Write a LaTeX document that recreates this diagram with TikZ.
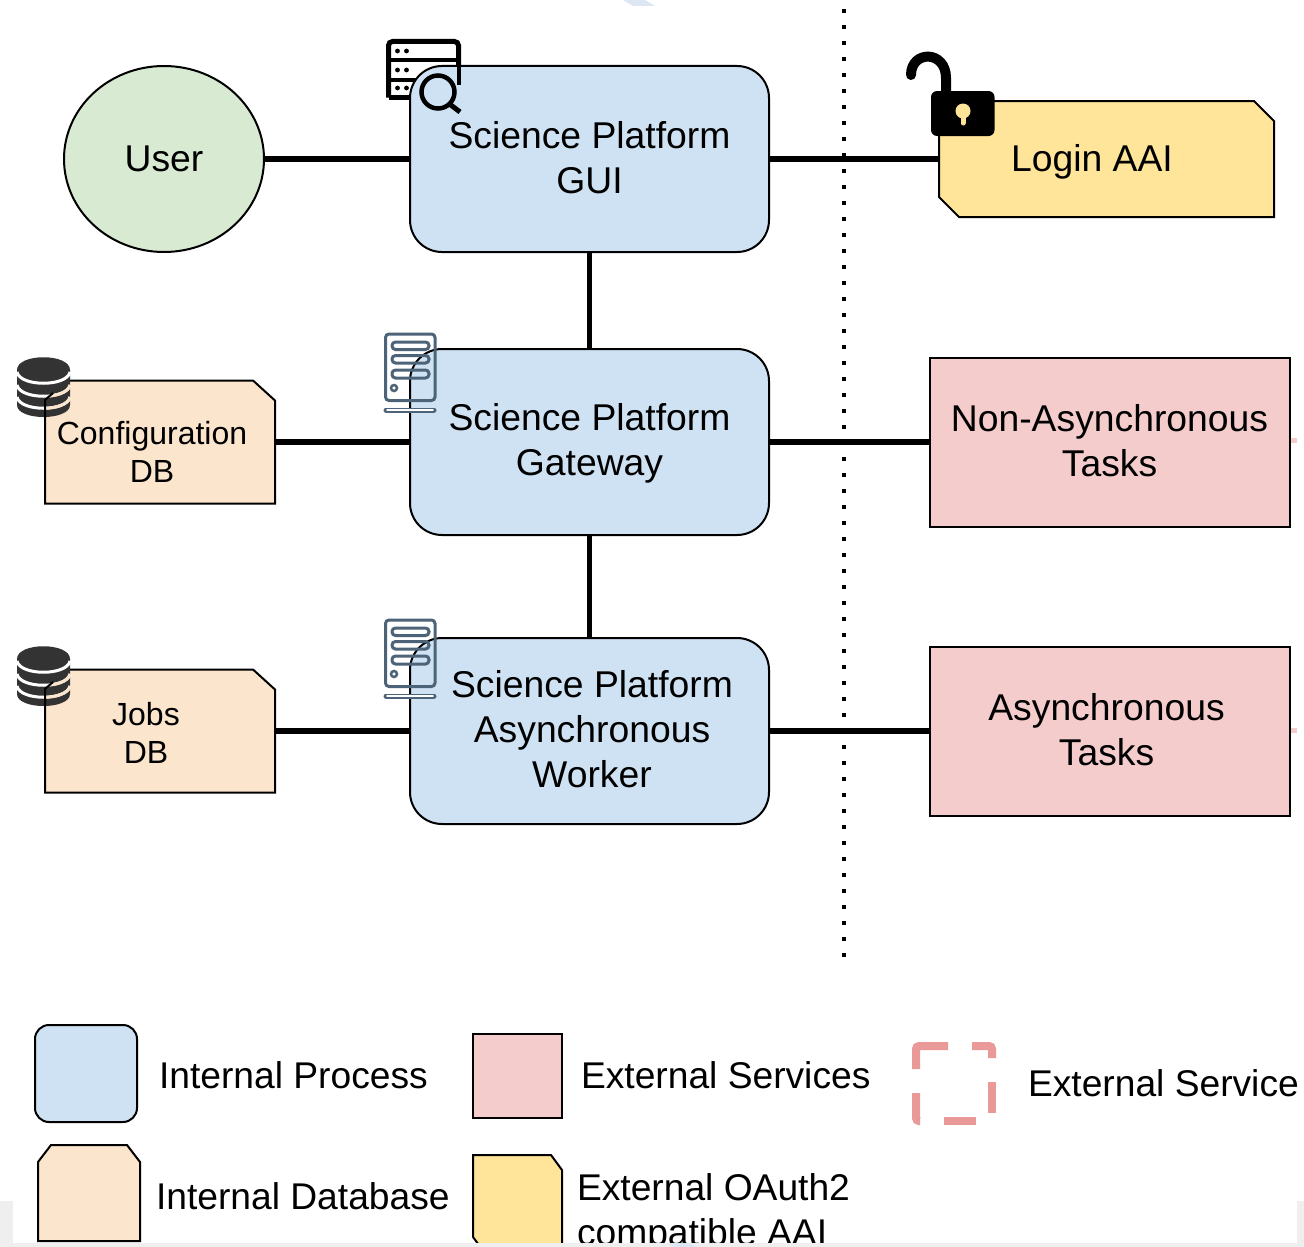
\documentclass[tikz,border=0pt]{standalone}
\usepackage{fontspec}
\setmainfont{Liberation Sans}
\usetikzlibrary{shapes.geometric}
\definecolor{procblue}{HTML}{CFE2F3}
\definecolor{dbpeach}{HTML}{FCE5CD}
\definecolor{extpink}{HTML}{F4CCCC}
\definecolor{aaiyellow}{HTML}{FFE599}
\definecolor{usergreen}{HTML}{D9EAD3}
\definecolor{dashpink}{HTML}{EA9999}
\definecolor{iconslate}{HTML}{4C6378}
\definecolor{icondark}{HTML}{333333}
\definecolor{bandgrey}{HTML}{EFEFEF}
\definecolor{ghostblue}{HTML}{DCE7F3}
\tikzset{
  every node/.style={inner sep=0pt,outer sep=0pt},
  big/.style={font=\fontsize{37.3}{45}\selectfont,align=center,text=black},
  small/.style={font=\fontsize{32}{38.5}\selectfont,align=center,text=black},
  legendtext/.style={font=\fontsize{37.2}{45}\selectfont,align=left,text=black},
  proc/.style={draw=black,line width=2pt,fill=procblue,rounded corners=32pt,minimum width=359pt,minimum height=186pt},
  ext/.style={draw=black,line width=2pt,fill=extpink,minimum width=360pt,minimum height=169pt},
  snipframe/.style={minimum width=#1},
  dbframe/.style={minimum width=230pt,minimum height=123pt},
  snipline/.style={draw=black,line width=2pt,line join=miter},
  link/.style={draw=black,line width=5.5pt},
  sep/.style={draw=black,line width=4pt,dash pattern=on 4pt off 12pt},
  srv/.style={draw=iconslate,line width=3pt,rounded corners=3.5pt},
}
% box with the two top corners cut: name, fill, dx, dy
\newcommand{\topsnip}[4]{%
  \draw[snipline,fill=#2] (#1.south west) -- ([yshift=-#4pt]#1.north west) -- ([xshift=#3pt]#1.north west) -- ([xshift=-#3pt]#1.north east) -- ([yshift=-#4pt]#1.north east) -- (#1.south east) -- cycle;}
% box with the north east and south west corners cut: name, fill, dx, dy
\newcommand{\diagsnip}[4]{%
  \draw[snipline,fill=#2] ([yshift=#4pt]#1.south west) -- (#1.north west) -- ([xshift=-#3pt]#1.north east) -- ([yshift=-#4pt]#1.north east) -- (#1.south east) -- ([xshift=#3pt]#1.south west) -- cycle;}
\newcommand{\dbicon}[1]{%
  \begin{scope}[shift={(0,#1)}]
    \fill[icondark] (17,370) -- (17,405) .. controls (17,421) and (70,421) .. (70,405) -- (70,370) .. controls (70,353) and (17,353) .. (17,370) -- cycle;
    \draw[white,line width=3pt] (17,372) .. controls (20,387) and (67,387) .. (70,372);
    \draw[white,line width=3pt] (17,385) .. controls (20,400) and (67,400) .. (70,385);
    \draw[white,line width=3pt] (17,397) .. controls (20,412) and (67,412) .. (70,397);
    \begin{scope}
      \clip (45,400) -- (67,380) -- (80,380) -- (80,430) -- (45,430) -- cycle;
      \draw[dbpeach,line width=3pt] (17,385) .. controls (20,400) and (67,400) .. (70,385);
      \draw[dbpeach,line width=3pt] (17,397) .. controls (20,412) and (67,412) .. (70,397);
    \end{scope}
    \draw[black,line width=2pt] (53,393) -- (45,400) -- (45,417);
  \end{scope}}
\newcommand{\srvicon}[1]{%
  \begin{scope}[shift={(0,#1)}]
    \draw[srv] (385.5,334) rectangle (435,400.5);
    \draw[srv] (392,342) rectangle (429,349.5);
    \draw[srv] (392,355.5) rectangle (429,363);
    \draw[srv] (392,370) rectangle (429,378);
    \draw[iconslate,line width=2.5pt] (394,388) circle (3pt);
    \draw[iconslate,line width=5pt,line cap=round] (386,410) -- (434,410);
    \draw[white,line width=1.5pt,line cap=round] (387,410) -- (433,410);
  \end{scope}}
\begin{document}
\begin{tikzpicture}[x=1pt,y=-1pt]
\useasboundingbox (0,0) rectangle (1304,1247);
\clip (0,0) rectangle (1304,1247);
\fill[white] (0,0) rectangle (1304,1247);
% faint fragments
\fill[ghostblue] (623,0) -- (645,0) -- (655,6) -- (633,6) -- cycle;
% search-server icon, below the box
\draw[black,line width=5pt,rounded corners=4pt] (388.5,97.5) -- (388.5,41.5) -- (458.5,41.5) -- (458.5,66);
\draw[black,line width=5pt] (388.5,97.5) -- (420,97.5);
\draw[black,line width=4pt] (388.5,60) -- (458.5,60) (388.5,80) -- (420,80);
\foreach \py in {51,70,88}{ \fill[black] (397.5,\py) circle (2.4pt); \fill[black] (406.5,\py) circle (2.4pt); }
% main nodes
\node[draw=black,line width=2pt,fill=usergreen,ellipse,minimum width=200pt,minimum height=186pt,big] (user) at (164,159) {User};
\node[proc] (gui) at (589.5,159) {};
\node[big] (guitext) at (589.5,158) {Science Platform\\GUI};
\node[proc] (gateway) at (589.5,442) {};
\node[big] (gatewaytext) at (589.5,443) {Science Platform\\Gateway};
\node[proc] (worker) at (589.5,731) {};
\node[big] (workertext) at (592,729.5) {Science Platform\\Asynchronous\\Worker};
\node[minimum width=335pt,minimum height=116pt] (login) at (1106.5,159) {};
\diagsnip{login}{aaiyellow}{20}{20}
\node[big] (logintext) at (1092,162) {Login AAI};
\node[dbframe] (configdb) at (160,442) {};
\topsnip{configdb}{dbpeach}{22}{20}
\node[small] (configtext) at (152,452) {Configuration\\DB};
\node[dbframe] (jobsdb) at (160,731) {};
\topsnip{jobsdb}{dbpeach}{22}{20}
\node[small] (jobstext) at (146,733) {Jobs\\DB};
\node[ext] (nonasync) at (1110,442) {};
\node[big] (nonasynctext) at (1109.5,441) {Non-Asynchronous\\Tasks};
\node[ext] (async) at (1110,731) {};
\node[big] (asynctext) at (1106.5,730) {Asynchronous\\Tasks};
% connectors
\draw[link] (user.east) -- (gui.west);
\draw[link] (gui.east) -- (login.west);
\draw[link] (gui.south) -- (gateway.north);
\draw[link] (gateway.south) -- (worker.north);
\draw[link] (configdb.east) -- (gateway.west);
\draw[link] (gateway.east) -- (nonasync.west);
\draw[link] (jobsdb.east) -- (worker.west);
\draw[link] (worker.east) -- (async.west);
\coordinate (septop) at (844,9);
\coordinate (sepbot) at (844,958);
\draw[sep] (septop) -- (sepbot);
% icons
\draw[black,line width=4pt] (458.5,64) -- (458.5,85);
\draw[black,line width=4.5pt] (438,92) circle (16.5pt);
\draw[black,line width=5pt] (449.5,104) -- (460,112);
\srvicon{0}
\srvicon{286}
\dbicon{0}
\dbicon{289}
% lock
\draw[black,line width=10pt,line cap=round] (911,75) .. controls (911,50) and (946,50) .. (946,78) -- (946,95);
\fill[black,rounded corners=6pt] (931,91) rectangle (994.5,136);
\fill[aaiyellow] (963,111) circle (7.5pt);
\draw[aaiyellow,line width=5pt,line cap=round] (963,112) -- (963,123);
% pink ticks
\fill[extpink] (1291,438) rectangle (1297,443);
\fill[extpink] (1291,728) rectangle (1297,733);
% legend
\node[draw=black,line width=2pt,fill=procblue,rounded corners=14pt,minimum width=102pt,minimum height=97pt] (legproc) at (86,1073.5) {};
\node[legendtext,anchor=west] (legproctext) at (159,1075) {Internal Process};
\node[draw=black,line width=2pt,fill=extpink,minimum width=89pt,minimum height=84pt] (legext) at (517.5,1076) {};
\node[legendtext,anchor=west] (legexttext) at (581,1075) {External Services};
\draw[dashpink,line width=8pt,rounded corners=3pt] (916,1069) -- (916,1046) -- (948,1046);
\draw[dashpink,line width=8pt,rounded corners=3pt] (972,1046) -- (992,1046) -- (992,1058);
\draw[dashpink,line width=8pt] (992,1082) -- (992,1113);
\draw[dashpink,line width=8pt] (976,1121) -- (944,1121);
\draw[dashpink,line width=8pt,rounded corners=3pt] (916,1093) -- (916,1121) -- (920,1121);
\node[legendtext,anchor=west] (legsvc) at (1028,1083) {External Service};
\node[minimum width=102pt,minimum height=96pt] (legdb) at (89,1193) {};
\topsnip{legdb}{dbpeach}{13}{17}
\node[legendtext,anchor=west] (legdbtext) at (156,1196) {Internal Database};
\node[minimum width=89pt,minimum height=97pt] (legaai) at (517.5,1203.5) {};
\diagsnip{legaai}{aaiyellow}{11}{15}
\node[legendtext,anchor=west] (legaaitext) at (577,1213.5) {External OAuth2\\compatible AAI};
% bottom band of the screenshot
\fill[bandgrey] (0,1243) rectangle (1304,1247);
\fill[bandgrey] (0,1201) rectangle (13,1247);
\fill[bandgrey] (1297,1201) rectangle (1304,1247);
\fill[ghostblue] (668,1243) -- (690,1243) -- (696,1247) -- (674,1247) -- cycle;
\end{tikzpicture}
\end{document}
